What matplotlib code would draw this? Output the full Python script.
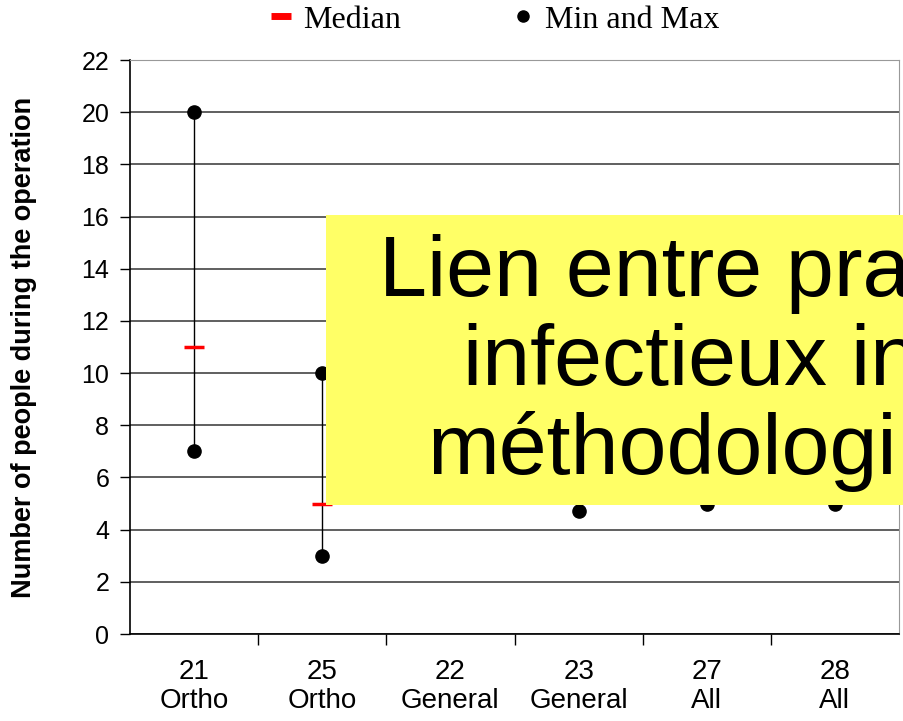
import matplotlib.pyplot as plt
from matplotlib.lines import Line2D
from matplotlib.patches import Rectangle

# data (the groups under the yellow box are estimates)
groups = ["21\nOrtho", "25\nOrtho", "22\nGeneral", "23\nGeneral", "27\nAll", "28\nAll"]
mins = [7, 3, 6, 4.7, 5, 5]
medians = [11, 5, 8, 7, 8, 9]
maxs = [20, 10, 12, 11, 12, 14]
yticks = list(range(0, 23, 2))

# overlay text, as much as is visible before the right edge
box_lines = ["Lien entre pra", "infectieux in", "méthodologi"]

W, H = 904, 721
fig = plt.figure(figsize=(W / 100, H / 100), dpi=100)
ax = fig.add_axes([130 / W, 1 - 634 / H, 769 / W, 574 / H])

xs = list(range(len(groups)))
ax.vlines(xs, mins, maxs, color="black", lw=1.0, zorder=3)
ax.plot(xs, mins, "o", color="black", ms=9.5, zorder=4, ls="none")
ax.plot(xs, maxs, "o", color="black", ms=9.5, zorder=4, ls="none")
ax.plot(xs, medians, "_", color="red", ms=14, mew=2.5, zorder=5, ls="none")

ax.set_xlim(-0.5, len(groups) - 0.5)
ax.set_ylim(0, 22)
ax.set_yticks(yticks)
ax.set_xticks(xs)
ax.set_xticklabels(groups, fontsize=20, family="Liberation Sans", linespacing=1.15)
ax.set_xticks([x + 0.5 for x in xs[:-1]], minor=True)
ax.tick_params(axis="x", which="major", length=0, pad=18)
ax.tick_params(axis="x", which="minor", length=8, width=1)
ax.tick_params(axis="y", length=7, width=1, labelsize=18, pad=8)
for lab in ax.get_yticklabels():
    lab.set_family("Liberation Sans")
ax.yaxis.grid(True, color="#444444", lw=1.2)
ax.set_axisbelow(True)
for side in ["top", "right"]:
    ax.spines[side].set_color("#999999")
ax.spines["left"].set_linewidth(1.2)
ax.spines["bottom"].set_linewidth(1.2)

ax.set_ylabel("Number of people during the operation", fontsize=19.5,
              fontweight="bold", family="Liberation Sans", labelpad=32)

handles = [
    Line2D([], [], color="red", marker="_", ms=14, mew=5, ls="none"),
    Line2D([], [], color="black", marker="o", ms=8, ls="none"),
]
fig.legend(handles, ["Median", "Min and Max"], loc="center",
           bbox_to_anchor=(494 / W, 1 - 20 / H), ncol=2, frameon=False,
           prop={"family": "Liberation Serif", "size": 23},
           handlelength=0.8, handletextpad=0.3, columnspacing=3.4,
           borderpad=0)

# yellow overlay box
fig.patches.append(Rectangle((326 / W, 1 - 505 / H), 1, 290 / H,
                             transform=fig.transFigure, facecolor="#ffff66",
                             edgecolor="none", zorder=10))
starts = [379, 463, 427]
baselines = [296, 385, 474]
for txt, x0, yb in zip(box_lines, starts, baselines):
    fig.text(x0 / W, 1 - yb / H, txt, fontsize=62, family="Liberation Sans",
             ha="left", va="baseline", zorder=11)

fig.savefig("out.png", dpi=100)
